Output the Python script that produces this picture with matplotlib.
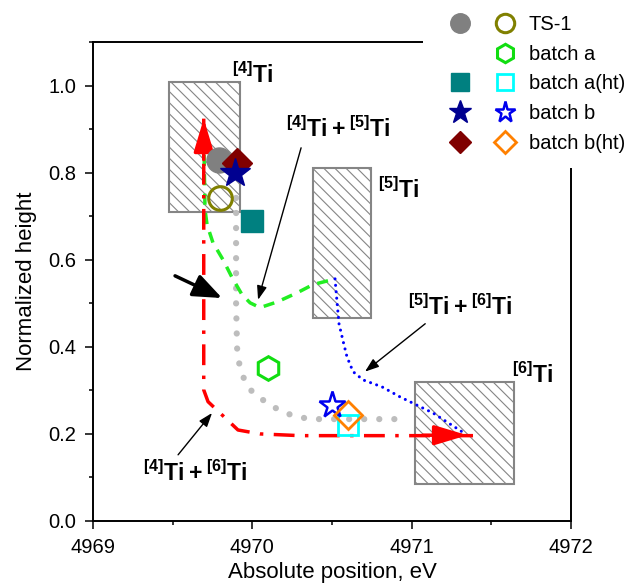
import numpy as np
import matplotlib.pyplot as plt
from matplotlib.patches import Rectangle
from matplotlib.lines import Line2D
from matplotlib.legend_handler import HandlerTuple
from matplotlib.ticker import MultipleLocator

plt.rcParams['font.family'] = ['Liberation Sans', 'DejaVu Sans']
plt.rcParams['mathtext.fontset'] = 'custom'
plt.rcParams['mathtext.rm'] = 'Liberation Sans'
plt.rcParams['mathtext.bf'] = 'Liberation Sans:bold'
plt.rcParams['hatch.linewidth'] = 0.8

# sample points (filled = first set, open = second set); None = no point
sample_labels = ['TS-1', 'batch a', 'batch a(ht)', 'batch b', 'batch b(ht)']
filled_x = [4969.79, None, 4970.00, 4969.89, 4969.905]
filled_y = [0.830, None, 0.690, 0.800, 0.823]
open_x = [4969.80, 4970.10, 4970.60, 4970.50, 4970.60]
open_y = [0.742, 0.352, 0.220, 0.267, 0.244]

# coordination regions
region_labels = [r'$\mathbf{{}^{[4]}Ti}$', r'$\mathbf{{}^{[5]}Ti}$', r'$\mathbf{{}^{[6]}Ti}$']
region_x0 = [4969.48, 4970.38, 4971.02]
region_x1 = [4969.92, 4970.745, 4971.64]
region_y0 = [0.710, 0.467, 0.085]
region_y1 = [1.009, 0.811, 0.320]

# guide paths
gray_x = [4969.898, 4969.898, 4969.904, 4969.917, 4969.942, 4969.998, 4970.092,
          4970.186, 4970.281, 4970.375, 4970.927]
gray_y = [0.742, 0.501, 0.398, 0.363, 0.331, 0.297, 0.271, 0.251, 0.239, 0.234, 0.234]

green_x = [4969.697, 4969.703, 4969.716, 4969.753, 4969.816, 4969.873, 4969.935,
           4969.986, 4970.048, 4970.155, 4970.281, 4970.381, 4970.500]
green_y = [0.841, 0.715, 0.680, 0.639, 0.600, 0.559, 0.520, 0.501, 0.490, 0.503,
           0.524, 0.543, 0.554]

blue_x = [4970.519, 4970.532, 4970.544, 4970.569, 4970.594, 4970.632, 4970.695,
          4970.814, 4970.927, 4971.134, 4971.316]
blue_y = [0.556, 0.501, 0.453, 0.414, 0.377, 0.343, 0.324, 0.308, 0.285, 0.248, 0.205]

red_x = [4969.695, 4969.695, 4969.722, 4969.829, 4969.910, 4970.048, 4970.300, 4971.385]
red_y = [0.924, 0.301, 0.274, 0.237, 0.209, 0.200, 0.196, 0.196]

# red arrow heads (tail, tip)
red_arrows = [((4969.695, 0.83), (4969.695, 0.924)),
              ((4971.07, 0.197), (4971.35, 0.197))]

# mixed-phase labels and pointers
mix_labels = [r'$\mathbf{{}^{[4]}Ti + {}^{[5]}Ti}$',
              r'$\mathbf{{}^{[5]}Ti + {}^{[6]}Ti}$',
              r'$\mathbf{{}^{[4]}Ti + {}^{[6]}Ti}$']
mix_pos = [(4970.538, 0.899), (4971.304, 0.492), (4969.640, 0.110)]
pointer_tail = [(4970.306, 0.857), (4971.085, 0.453), (4969.534, 0.152)]
pointer_tip = [(4970.036, 0.508), (4970.707, 0.343), (4969.747, 0.248)]

fig = plt.figure(figsize=(6.32, 5.83), dpi=100)
ax = fig.add_axes([93/632, 1 - 521/583, (571-93)/632, (521-42)/583])

# hatched regions
for x0, x1, y0, y1 in zip(region_x0, region_x1, region_y0, region_y1):
    ax.add_patch(Rectangle((x0, y0), x1 - x0, y1 - y0, facecolor='white',
                           edgecolor='#858585', lw=1.5, hatch='\\\\\\', zorder=1))

ax.text(4969.87, 1.024, region_labels[0], fontsize=16.5, va='center', ha='left')
ax.text(4970.915, 0.759, region_labels[1], fontsize=16.5, va='center', ha='center')
ax.text(4971.756, 0.336, region_labels[2], fontsize=16.5, va='center', ha='center')

# paths
ax.plot(gray_x, gray_y, color='#bdbdbd', lw=4.5, ls=(0, (0.01, 2.4)),
        dash_capstyle='round', zorder=2)
ax.plot(green_x, green_y, color='#22ee22', lw=2.5, ls=(0, (3.2, 2.4)), zorder=3)
ax.plot(blue_x, blue_y, color='#0000ff', lw=2.2, ls=(0, (0.01, 2.1)),
        dash_capstyle='round', zorder=3)
ax.plot(red_x, red_y, color='#ff0000', lw=2.5, ls=(0, (6, 3, 1, 3)), zorder=3)
for tail, tip in red_arrows:
    ax.annotate('', xy=tip, xytext=tail, zorder=4,
                arrowprops=dict(arrowstyle='-|>,head_length=1.0,head_width=0.3',
                                mutation_scale=20, color='#ff0000', lw=2.5,
                                shrinkA=0, shrinkB=0))

# samples
filled_style = [dict(marker='o', ms=18, color='#808080'),
                None,
                dict(marker='s', ms=16, color='#008080'),
                dict(marker='*', ms=22, color='#000090'),
                dict(marker='D', ms=15, color='#800000')]
open_style = [dict(marker='o', ms=17, mew=2.2, mec='#808000'),
              dict(marker='h', ms=17, mew=2.2, mec='#11dd11'),
              dict(marker='s', ms=14.5, mew=2.0, mec='#00ffff'),
              dict(marker='*', ms=20, mew=1.8, mec='#0000ee'),
              dict(marker='D', ms=14, mew=2.0, mec='#ff8000')]
z_filled = [5, 5, 5, 7, 6]
for i in range(len(sample_labels)):
    if filled_x[i] is not None:
        ax.plot([filled_x[i]], [filled_y[i]], ls='none', zorder=z_filled[i], **filled_style[i])
    ax.plot([open_x[i]], [open_y[i]], ls='none', mfc='none', zorder=5, **open_style[i])

# labels with pointers
for lab, pos, tail, tip in zip(mix_labels, mix_pos, pointer_tail, pointer_tip):
    ax.text(pos[0], pos[1], lab, fontsize=16.5, ha='center', va='center')
    ax.annotate('', xy=tip, xytext=tail,
                arrowprops=dict(arrowstyle='-|>,head_length=0.7,head_width=0.25',
                                mutation_scale=12, color='black', lw=1.0,
                                shrinkA=0, shrinkB=0))
ax.annotate('', xy=(4969.81, 0.512), xytext=(4969.515, 0.563),
            arrowprops=dict(arrowstyle='-|>,head_length=0.8,head_width=0.32',
                            mutation_scale=22, color='black', lw=2.5,
                            shrinkA=0, shrinkB=0))

ax.set_xlim(4969, 4972)
ax.set_ylim(0, 1.1)
ax.xaxis.set_major_locator(MultipleLocator(1))
ax.xaxis.set_minor_locator(MultipleLocator(0.5))
ax.yaxis.set_major_locator(MultipleLocator(0.2))
ax.yaxis.set_minor_locator(MultipleLocator(0.1))
ax.ticklabel_format(axis='x', useOffset=False)
ax.tick_params(which='major', direction='out', length=6, width=1.1, labelsize=14.5, pad=6)
ax.tick_params(which='minor', direction='out', length=3, width=1.1)
for sp in ax.spines.values():
    sp.set_linewidth(1.4)
ax.set_xlabel('Absolute position, eV', fontsize=16, labelpad=4)
ax.set_ylabel('Normalized height', fontsize=16, labelpad=8)

# legend: filled and open markers side by side
handles = []
for i in range(len(sample_labels)):
    if filled_x[i] is not None:
        h1 = Line2D([], [], ls='none', **filled_style[i])
    else:
        h1 = Line2D([], [], ls='none', marker='None')
    h2 = Line2D([], [], ls='none', mfc='none', **open_style[i])
    handles.append((h1, h2))
leg = ax.legend(handles, sample_labels, handler_map={tuple: HandlerTuple(ndivide=None, pad=0)},
                loc='upper left', bbox_to_anchor=(423/632, 1.0), bbox_transform=fig.transFigure,
                frameon=True, facecolor='white', edgecolor='none', framealpha=1, fancybox=False,
                fontsize=14.5, handlelength=4.4, handletextpad=0.1, labelspacing=0.53,
                borderpad=0.75, borderaxespad=0, markerscale=0.78)

fig.savefig('out.png', dpi=100)
